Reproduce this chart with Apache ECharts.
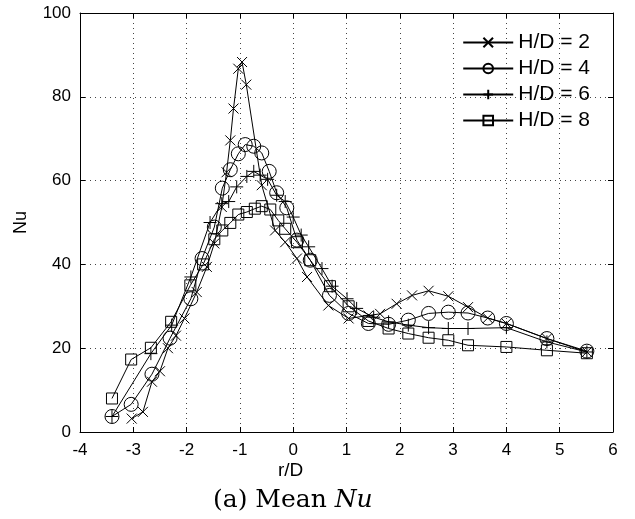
<!DOCTYPE html>
<html>
<head>
<meta charset="utf-8">
<script src="https://cdn.jsdelivr.net/npm/echarts@6/dist/echarts.min.js"></script>
<style>
  html, body { margin: 0; padding: 0; background: #fff; }
  #chart { width: 635px; height: 519px; }
</style>
</head>
<body>
<div id="chart"></div>
<script>
// Nu profiles, [r/D, Nu]
var hd2 = [
  [-3.03, 3.2], [-2.82, 4.8], [-2.65, 12], [-2.5, 14.5], [-2.35, 20], [-2.2, 23],
  [-2.04, 27.1], [-1.81, 33.4], [-1.62, 39.4], [-1.48, 45], [-1.34, 53.7], [-1.25, 62],
  [-1.18, 69.6], [-1.12, 77.2], [-1.03, 86.7], [-0.96, 88.3], [-0.88, 82.9], [-0.59, 58.9],
  [-0.34, 48.1], [-0.15, 45.3], [0.07, 41.4], [0.26, 37], [0.66, 30.2], [1.04, 27.1],
  [1.41, 27.8], [1.63, 28.2], [1.94, 30.6], [2.23, 32.6], [2.54, 33.7], [2.91, 32.4],
  [3.28, 29.8], [3.65, 27.2], [4.0, 25.9], [4.76, 22.3], [5.51, 19.1]
]
var hd4 = [
  [-3.4, 3.7], [-3.04, 6.6], [-2.65, 13.8], [-2.31, 22.4], [-1.92, 31.8], [-1.71, 41.4],
  [-1.48, 48.9], [-1.33, 58.2], [-1.18, 62.6], [-1.03, 66.4], [-0.9, 68.6], [-0.74, 68.2],
  [-0.59, 66.6], [-0.45, 62.2], [-0.31, 57.1], [-0.12, 53.5], [0.07, 45.8], [0.32, 41],
  [0.68, 32.6], [1.04, 28.3], [1.41, 25.9], [1.79, 25.7], [2.16, 26.7], [2.54, 28.3],
  [2.91, 28.6], [3.28, 28.4], [3.65, 27.2], [4.0, 25.9], [4.76, 22.3], [5.51, 19.3]
]
var hd6 = [
  [-3.4, 3.7], [-2.67, 18.7], [-2.28, 25.5], [-1.92, 37], [-1.56, 50], [-1.34, 54.5],
  [-1.21, 55], [-1.06, 58.5], [-0.87, 61], [-0.74, 62.2], [-0.62, 61.3], [-0.48, 60.3],
  [-0.31, 56.5], [-0.15, 55], [0.0, 51.3], [0.15, 47], [0.29, 44.2], [0.54, 39],
  [0.73, 34.8], [1.01, 31.8], [1.19, 29.5], [1.51, 27.4], [1.79, 26.3], [2.16, 25.5],
  [2.54, 24.9], [2.91, 24.7], [3.28, 24.7], [4.0, 24.9], [4.76, 21.5], [5.51, 19.1]
]
var hd8 = [
  [-3.4, 8], [-3.04, 17.3], [-2.67, 20.1], [-2.29, 26.3], [-1.93, 35], [-1.69, 40],
  [-1.48, 46], [-1.33, 48.1], [-1.18, 49.9], [-1.03, 51.9], [-0.87, 52.5], [-0.72, 53.3],
  [-0.59, 53.9], [-0.43, 53.1], [-0.28, 50.5], [-0.15, 48.5], [0.07, 45.3], [0.32, 41],
  [0.69, 34.8], [1.04, 30], [1.41, 26.5], [1.79, 24.7], [2.16, 23.5], [2.54, 22.5],
  [2.91, 21.9], [3.28, 20.7], [4.0, 20.3], [4.76, 19.5], [5.51, 18.8]
]
var seriesNames = ['H/D = 2', 'H/D = 4', 'H/D = 6', 'H/D = 8']

var chart = echarts.init(document.getElementById('chart'), null, { renderer: 'canvas' })

var axisFont = { color: '#000', fontSize: 17, fontFamily: 'Liberation Sans' }
var markStyle = { color: 'rgba(0,0,0,0)', borderColor: '#000', borderWidth: 1 }
var boxLine = { show: true, onZero: false, lineStyle: { color: '#000', width: 1 } }
var inTick = { show: true, inside: true, length: 5, lineStyle: { color: '#000' } }
var dotGrid = { show: true, lineStyle: { color: '#444', type: [1, 4], width: 1 } }

function makeSeries(name, data, symbol, size) {
  return {
    name: name,
    type: 'line',
    data: data,
    symbol: symbol,
    symbolSize: size,
    showAllSymbol: true,
    itemStyle: markStyle,
    lineStyle: { color: '#000', width: 1 },
    emphasis: { disabled: true }
  }
}

chart.setOption({
  animation: false,
  grid: { left: 80, right: 22, top: 13, bottom: 87 },
  legend: {
    orient: 'vertical',
    right: 40,
    top: 27,
    itemWidth: 50,
    itemHeight: 12,
    itemGap: 5,
    textStyle: { color: '#000', fontSize: 21, fontFamily: 'Liberation Sans' },
    data: seriesNames
  },
  title: {
    text: '(a) Mean {i|Nu}',
    left: 208,
    bottom: 1,
    textStyle: {
      color: '#000', fontSize: 25, fontWeight: 'normal', fontFamily: 'DejaVu Serif',
      rich: { i: { fontSize: 25, fontStyle: 'italic', fontFamily: 'DejaVu Serif', color: '#000' } }
    }
  },
  graphic: [{
    type: 'text',
    left: 278,
    top: 461,
    style: { text: 'r/D', fill: '#000', fontSize: 19, fontFamily: 'Liberation Sans' }
  }],
  xAxis: [{
    type: 'value',
    min: -4,
    max: 6,
    interval: 1,
    axisLine: boxLine,
    axisTick: inTick,
    axisLabel: Object.assign({ margin: 10 }, axisFont),
    splitLine: dotGrid
  }, {
    type: 'value',
    min: -4,
    max: 6,
    interval: 1,
    position: 'top',
    axisLine: boxLine,
    axisTick: inTick,
    axisLabel: { show: false },
    splitLine: { show: false }
  }],
  yAxis: [{
    type: 'value',
    min: 0,
    max: 100,
    interval: 20,
    name: 'Nu',
    nameLocation: 'middle',
    nameGap: 50,
    nameRotate: 90,
    nameTextStyle: { color: '#000', fontSize: 18, fontFamily: 'Liberation Sans' },
    axisLine: boxLine,
    axisTick: inTick,
    axisLabel: Object.assign({ margin: 9 }, axisFont),
    splitLine: dotGrid
  }, {
    type: 'value',
    min: 0,
    max: 100,
    interval: 20,
    position: 'right',
    axisLine: boxLine,
    axisTick: inTick,
    axisLabel: { show: false },
    splitLine: { show: false }
  }],
  series: [
    makeSeries(seriesNames[0], hd2, 'path://M0,0L10,10M10,0L0,10', 10),
    makeSeries(seriesNames[1], hd4, 'circle', 14),
    makeSeries(seriesNames[2], hd6, 'path://M5,0L5,10M0,5L10,5', 13),
    makeSeries(seriesNames[3], hd8, 'rect', 11)
  ]
})
</script>
</body>
</html>
